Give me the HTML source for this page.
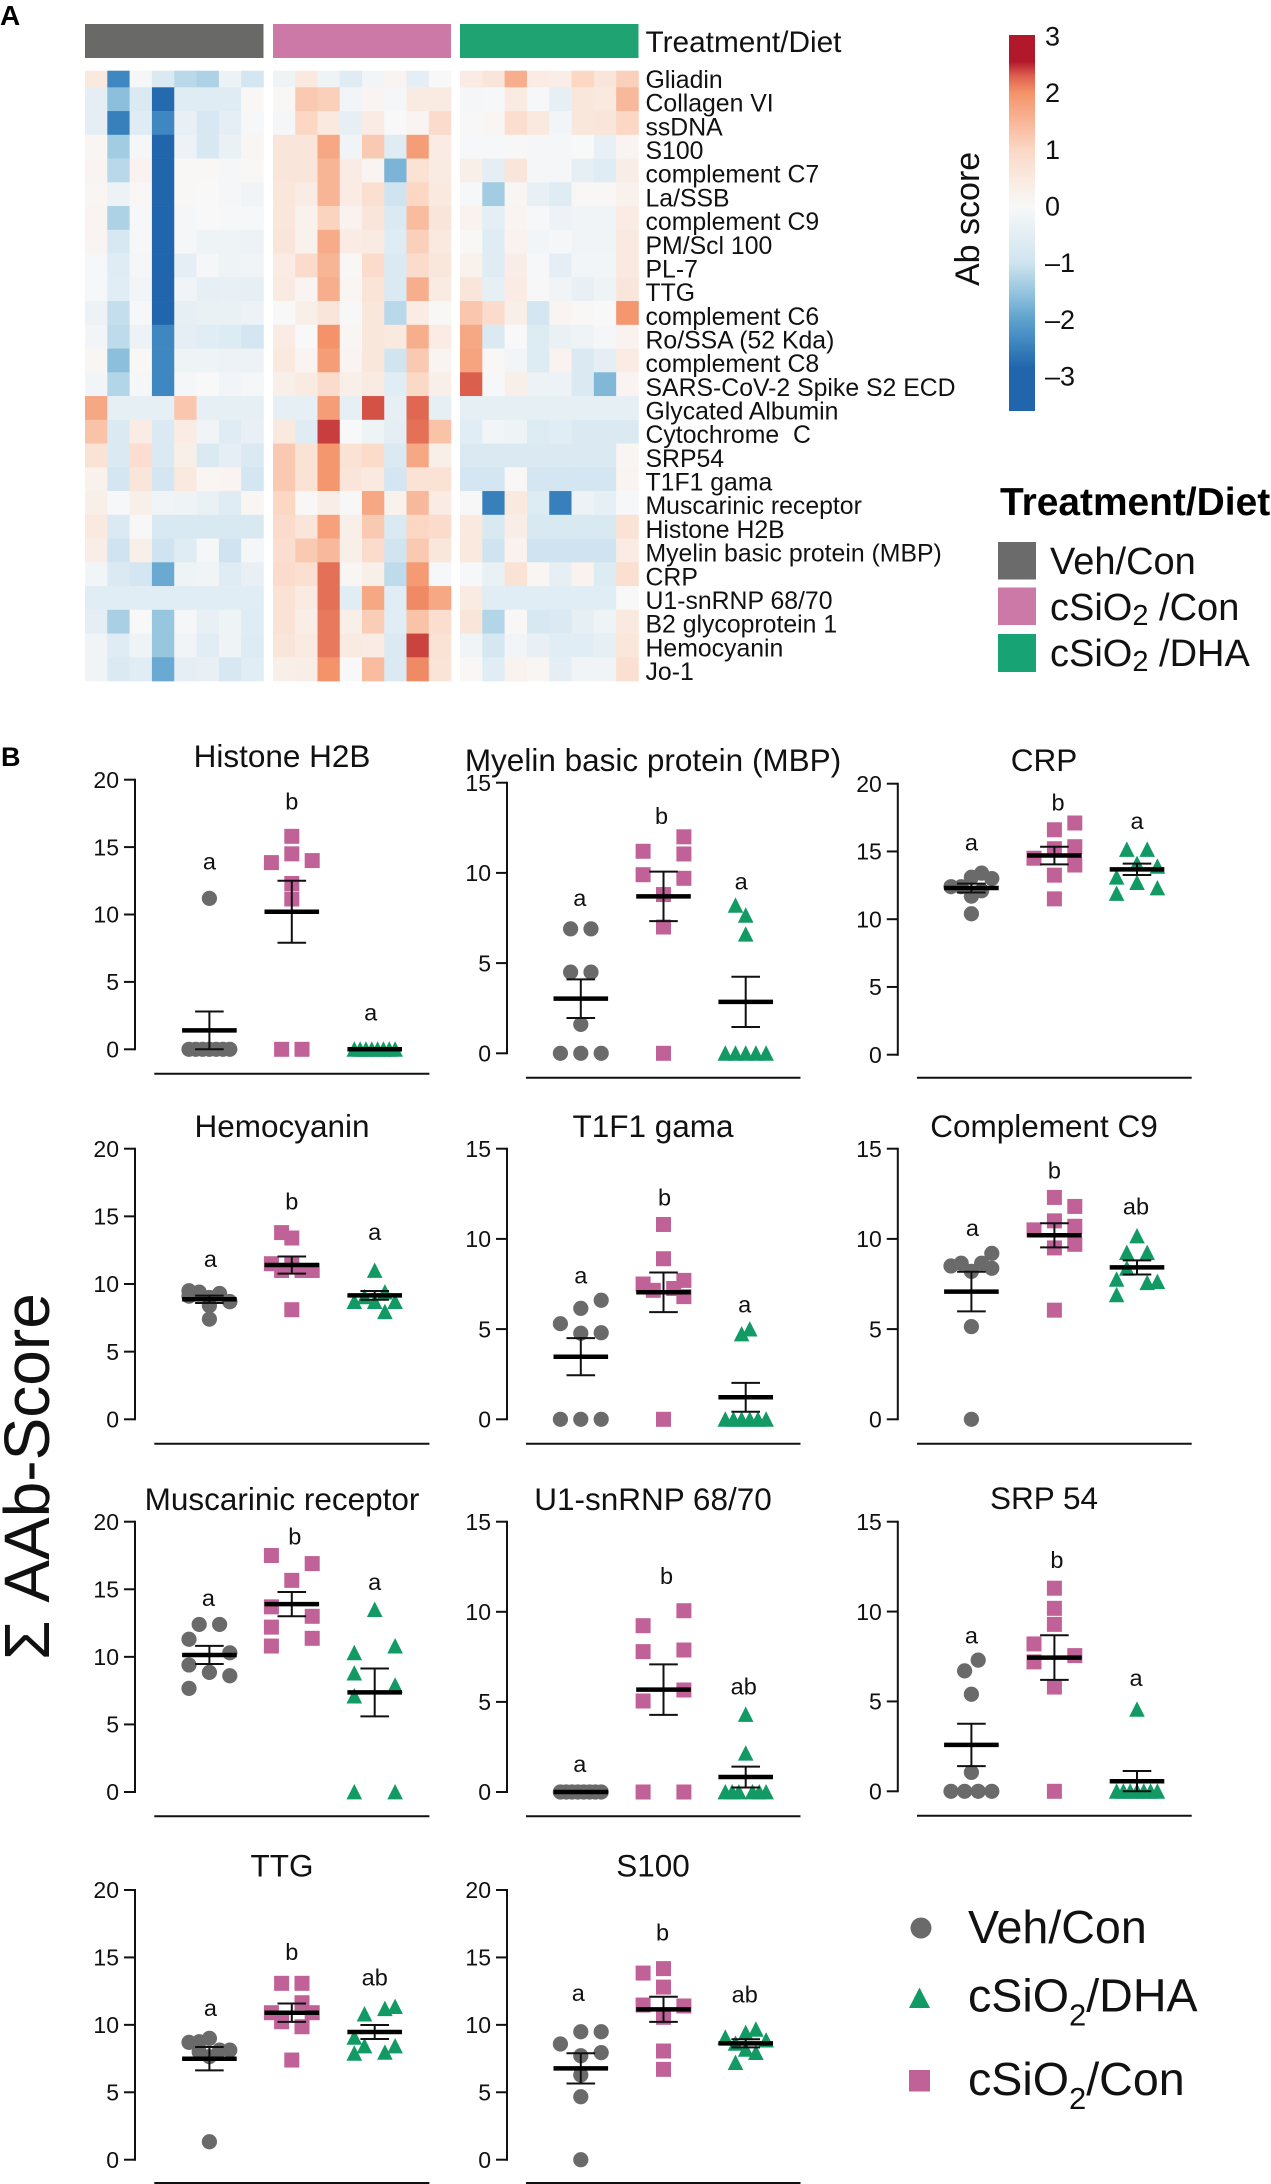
<!DOCTYPE html>
<html lang="en">
<head>
<meta charset="utf-8">
<title>Autoantibody heatmap and scatter panels</title>
<style>
html,body{margin:0;padding:0;background:#fff;width:1271px;height:2184px;overflow:hidden}
svg{display:block;font-family:"Liberation Sans",Arial,sans-serif;fill:#111}
.pre{white-space:pre}
</style>
</head>
<body>
<svg id="figure" xmlns="http://www.w3.org/2000/svg" width="1271" height="2184" viewBox="0 0 1271 2184">
  <defs>
    <linearGradient id="abScale" x1="0" y1="0" x2="0" y2="1"></linearGradient>
  </defs>
  <rect x="0" y="0" width="1271" height="2184" fill="#fff"></rect>
  <text x="0" y="25" font-size="28" font-weight="bold" fill="#000">A</text>
  <text x="1" y="766" font-size="27" font-weight="bold" fill="#000">B</text>

  <rect x="85" y="24" width="178.5" height="34" fill="#696968"></rect>
  <rect x="273" y="24" width="178" height="34" fill="#cd79a8"></rect>
  <rect x="460" y="24" width="178.5" height="34" fill="#1fa373"></rect>
  <text x="645.5" y="52" font-size="29.8">Treatment/Diet</text>

  <g id="heatmap"></g>
  <g id="rowLabelsGroup"></g>

  <rect x="1009" y="35" width="26" height="376" fill="url(#abScale)"></rect>
  <g id="colorbarTicks"></g>
  <text transform="translate(979,286) rotate(-90)" font-size="34">Ab score</text>

  <text x="1000" y="515" font-size="38.9" font-weight="bold" fill="#000">Treatment/Diet</text>
  <rect x="998" y="542" width="38" height="37.5" fill="#6b6b6b"></rect>
  <rect x="998" y="587.5" width="38" height="37.5" fill="#cc79a7"></rect>
  <rect x="998" y="634" width="38" height="38" fill="#18a374"></rect>
  <text x="1050" y="574" font-size="38">Veh/Con</text>
  <text x="1050" y="620" font-size="38">cSiO<tspan font-size="29" dy="5">2</tspan><tspan dy="-5"> /Con</tspan></text>
  <text x="1050" y="666" font-size="38">cSiO<tspan font-size="29" dy="5">2</tspan><tspan dy="-5"> /DHA</tspan></text>

  <text transform="translate(49,1660) rotate(-90)" font-size="64">&#931; AAb-Score</text>

  <g id="panels"></g>

  <circle cx="921" cy="1928" r="10.5" fill="#6a6a6a"></circle>
  <polygon points="919.5,1987.5 930,2008 909,2008" fill="#129a65"></polygon>
  <rect x="909" y="2070" width="21" height="21.5" fill="#c06297"></rect>
  <text x="968" y="1943" font-size="46.6">Veh/Con</text>
  <text x="968" y="2011.5" font-size="46.6">cSiO<tspan font-size="31" dy="14">2</tspan><tspan dy="-14">/DHA</tspan></text>
  <text x="968" y="2095" font-size="46.6">cSiO<tspan font-size="31" dy="14">2</tspan><tspan dy="-14">/Con</tspan></text>
</svg>

<script>
// ---------- Heatmap data ----------
const rowLabels = ["Gliadin","Collagen VI","ssDNA","S100","complement C7","La/SSB","complement C9","PM/Scl 100","PL-7","TTG","complement C6","Ro/SSA (52 Kda)","complement C8","SARS-CoV-2 Spike S2 ECD","Glycated Albumin","Cytochrome  C","SRP54","T1F1 gama","Muscarinic receptor","Histone H2B","Myelin basic protein (MBP)","CRP","U1-snRNP 68/70","B2 glycoprotein 1","Hemocyanin","Jo-1"];
const vehConScores = [
[0.5,-2.4,-0.1,-0.7,-1.2,-1.3,-0.3,-0.9],
[-0.5,-1.6,-0.7,-2.8,-0.6,-0.6,-0.6,0.05],
[-0.5,-2.5,-0.6,-2.4,-0.4,-0.8,-0.5,-0.05],
[0.1,-1.4,-0.1,-3,-0.3,-0.8,-0.35,0.1],
[0.15,-1.2,0.2,-3,0.05,0.05,-0.1,0.05],
[0.1,-0.3,0.05,-3,0.05,0,-0.1,-0.2],
[0.15,-1.3,-0.05,-3,-0.1,0,-0.05,-0.05],
[0.15,-0.8,-0.05,-3,-0.1,-0.25,-0.25,-0.3],
[-0.05,-0.6,-0.1,-3,-0.5,-0.1,-0.25,-0.2],
[-0.05,-0.55,-0.15,-3,-0.2,-0.45,-0.4,-0.45],
[-0.3,-1.1,-0.05,-2.9,-0.45,-0.35,-0.35,-0.3],
[-0.15,-1.15,-0.3,-2.4,-0.5,-0.55,-0.65,-0.9],
[0.1,-1.6,0.05,-2.4,-0.25,-0.25,-0.3,-0.3],
[-0.15,-1.25,-0.1,-2.4,-0.1,0,-0.15,-0.1],
[1.7,-0.45,-0.45,-0.45,1.25,-0.45,-0.45,-0.45],
[1.3,-0.7,0.4,-0.7,0.4,-0.2,-0.6,-0.4],
[0.7,-0.7,0.8,-0.7,0.3,-0.7,-0.5,-0.7],
[0.25,-0.9,0.6,-0.9,0.5,0.1,0.15,-0.9],
[0.3,-0.05,0.3,-0.2,-0.25,-0.35,-0.6,0.1],
[0.5,-0.7,0.03,-0.75,-0.75,-0.75,-0.75,-0.75],
[0.35,-1,0.3,-1,-0.6,-0.1,-1,-0.1],
[-0.15,-0.7,-0.9,-1.9,-0.25,-0.2,-0.6,-0.4],
[-0.55,-0.55,-0.55,-0.55,-0.55,-0.55,-0.55,-0.55],
[-0.5,-1.35,0,-1.5,-0.1,-0.4,-0.25,-0.6],
[-0.2,-0.6,-0.25,-1.5,-0.2,-0.55,-0.25,-0.65],
[-0.2,-0.7,-0.55,-1.9,-0.5,-0.4,-0.8,-0.55]
];
const silicaConScores = [
[-0.25,0.5,-0.25,-0.6,-0.15,0.15,-0.5,0],
[0.05,1.2,1.1,-0.15,0.15,-0.1,0.45,0.45],
[-0.1,1,0.5,-0.45,0.4,0,0.15,0.85],
[0.6,0.6,1.7,-0.2,1.2,-0.6,1.85,0.4],
[0.6,0.6,1.5,0.4,0.15,-1.75,0.7,0.45],
[0.55,0.4,1.5,0.4,0.75,-1,1,0.5],
[0.55,0.25,1.05,0.2,0.6,-0.7,1.4,0.6],
[0.6,0.25,1.65,0.4,0.45,-0.6,1.1,0.5],
[0.4,0.85,1.5,0.05,0.85,-0.7,0.85,0.55],
[0.45,0.15,1.6,0.1,0.65,-0.7,1.6,0.45],
[0,0.3,0.6,0.03,0.55,-1.2,0.4,0.05],
[0.4,0,2.0,0.1,0.55,0.5,1.6,0.4],
[0.5,0.15,1.85,0.15,0.55,-0.95,1.2,0.15],
[0.3,0.45,0.85,0.3,0.45,-0.55,0.95,0.3],
[-0.45,-0.45,1.85,-0.45,2.35,-0.45,2.25,-0.45],
[0.5,-0.6,2.42,0,-0.25,-0.5,2.2,1.3],
[1.2,0.7,1.95,0.7,0.9,-0.7,1.7,0.3],
[1.2,0.7,1.95,0.6,0.5,-0.9,0.7,0.7],
[1,0.05,0.35,0.03,1.7,0.25,1.45,0.4],
[0.85,0.6,1.8,0.3,1.2,-0.7,1,0.85],
[0.8,1.2,1.45,0.3,0.85,-0.95,1.2,0.55],
[0.85,0.75,2.2,0.1,0.3,-1.15,1.9,-0.05],
[0.7,0.45,2.2,-0.55,1.7,-0.55,2.05,1.7],
[0.7,0.35,2.15,0.3,1.15,-0.55,1.3,0.8],
[0.6,0.45,2.15,0.45,0.4,-0.7,2.4,0.7],
[0.3,0.35,2.0,0,1.4,-0.7,2.05,0.65]
];
const silicaDhaScores = [
[0.4,0.6,1.6,0.4,0.35,1.0,0.6,1.1],
[-0.1,-0.05,0.45,-0.05,-0.45,0.55,0.5,1.45],
[-0.03,0.1,0.8,0.5,-0.15,0.55,0.6,1.0],
[-0.05,-0.05,-0.03,-0.1,-0.1,-0.02,-0.4,0.15],
[0.3,-0.5,0.6,-0.1,-0.1,-0.45,-0.6,0.35],
[-0.05,-1.4,0.1,-0.4,-0.6,0.05,0.05,0.25],
[0.2,-0.5,0.15,-0.05,-0.3,-0.2,-0.2,0.4],
[0.05,-0.6,0.2,-0.15,-0.1,-0.2,-0.2,0.5],
[0.25,-0.6,0.35,-0.05,-0.5,-0.15,-0.15,0.5],
[0.6,-0.45,0.4,-0.03,-0.2,-0.4,-0.25,0.6],
[1.25,0.85,0.3,-0.9,0.15,0.05,0,1.95],
[1.7,-0.7,0,-0.65,-0.35,-0.25,-0.1,0.2],
[1.75,0.05,-0.15,-0.65,0.2,-0.7,-0.5,0.4],
[2.3,-0.05,0.3,-0.3,-0.3,-0.7,-1.7,0.15],
[-0.45,-0.45,-0.45,-0.45,-0.45,-0.45,-0.45,-0.45],
[-0.55,-0.15,-0.25,-0.65,-0.55,-0.7,-0.7,-0.7],
[-0.7,-0.7,-0.7,-0.7,-0.7,-0.7,-0.7,0.1],
[-0.9,-0.9,0.05,-0.9,-0.9,-0.9,-0.9,0.15],
[0.03,-2.5,0.5,-0.65,-2.5,-0.3,-0.45,-0.05],
[0.5,-0.75,0.35,-0.75,-0.75,-0.75,-0.75,0.7],
[0.5,-1,0.2,-1,-1,-1,-1,0.4],
[-0.05,-0.35,0.7,0.1,-0.45,0.2,-0.65,0.75],
[0.45,-0.55,-0.55,-0.55,-0.55,-0.55,-0.55,0],
[0.6,-1.25,0.05,-0.8,-0.7,-0.45,-0.25,0.5],
[-0.2,-0.85,-0.15,-0.4,-0.55,-0.55,-0.45,0.55],
[0.05,-0.55,0.2,0.1,-0.5,-0.2,-0.2,0.75]
];
const colorbarTickValues = [3,2,1,0,-1,-2,-3];

// ---------- Scatter data: each series is a list of swarm lanes, each lane a list of values ----------
const histoneVeh = [[0],[0],[0],[0,11.2],[0],[0],[0]];
const histoneCon = [[13.85],[0],[15.8,14.5,12.3,11.15],[0],[14]];
const histoneDha = [[0],[0],[0],[0],[0],[0],[0],[0]];
const histoneMeans = [1.4,10.2,0];
const histoneSem = [1.4,2.3,0];
const histoneLetters = ["a","b","a"];
const histoneLetterLevels = [13.8,18.4,2.6];

const mbpVeh = [[0],[6.9,4.5],[0,1.6],[6.9,4.5],[0]];
const mbpCon = [[11.2,9.9],[],[8.8,7.0,0],[],[12,11.05,9.7]];
const mbpDha = [[0],[0,8.2],[0,7.65,6.6],[0],[0]];
const mbpMeans = [3.03,8.7,2.85];
const mbpSem = [1.07,1.37,1.39];
const mbpLetters = ["a","b","a"];
const mbpLetterLevels = [8.5,13.15,9.4];

const crpVeh = [[12.4],[12.4],[10.4,11.7,13.1],[13.4,12.1],[13.0]];
const crpCon = [[14.5],[],[16.6,15.2,13.25,11.5],[],[17.1,15.35,14]];
const crpDha = [[13.1,11.9],[15.15],[14.1,12.7],[15.15],[13.9,12.3]];
const crpMeans = [12.3,14.7,13.68];
const crpSem = [0.33,0.65,0.42];
const crpLetters = ["a","b","a"];
const crpLetterLevels = [15.5,18.6,17.1];

const hemocyaninVeh = [[9.5,9.1],[9.4],[8.4,7.4,9.0],[9.3],[8.7,8.7]];
const hemocyaninCon = [[11.5],[13.8,11],[13.4,11.4,8.1],[11],[11]];
const hemocyaninDha = [[8.7],[9.05],[11,8.7],[9.4,7.95],[8.7]];
const hemocyaninMeans = [8.87,11.4,9.16];
const hemocyaninSem = [0.27,0.63,0.32];
const hemocyaninLetters = ["a","b","a"];
const hemocyaninLetterLevels = [11.7,16.1,13.7];

const t1f1Veh = [[5.3,0],[],[6.15,4.77,0],[],[6.6,4.8,0]];
const t1f1Con = [[7.5],[7.15],[10.8,8.9,0],[7.25],[7.7,6.8]];
const t1f1Dha = [[0],[0],[0,4.73],[0,5],[0],[0]];
const t1f1Means = [3.47,7.04,1.22];
const t1f1Sem = [1.03,1.1,0.8];
const t1f1Letters = ["a","b","a"];
const t1f1LetterLevels = [7.87,12.3,6.25];

const c9Veh = [[8.5],[8.65],[8.2,5.14,0],[8.65],[9.2,8.37]];
const c9Con = [[10.5],[],[12.3,11,9.5,6.05],[],[11.8,10.7,9.7]];
const c9Dha = [[7.76,6.9],[9.24,8.37],[10.16],[9.24,7.57],[7.63]];
const c9Means = [7.08,10.2,8.42];
const c9Sem = [1.1,0.67,0.39];
const c9Letters = ["a","b","ab"];
const c9LetterLevels = [10.5,13.8,11.8];

const muscarinicVeh = [[7.67,9.4,11.3],[12.4],[8.85],[12.4],[8.6,10.3]];
const muscarinicCon = [[17.5,13.7,12.2,10.8],[],[15.66],[],[16.9,13,11.37]];
const muscarinicDha = [[10.3,8.8,7.1,0],[],[13.5],[],[10.8,7.9,0]];
const muscarinicMeans = [10.14,13.9,7.37];
const muscarinicSem = [0.67,0.9,1.77];
const muscarinicLetters = ["a","b","a"];
const muscarinicLetterLevels = [14.2,18.9,15.4];

const u1Veh = [[0],[0],[0],[0],[0],[0],[0],[0]];
const u1Con = [[9.23,7.79,5.05,0],[],[],[],[10.06,7.88,5.66,0]];
const u1Dha = [[0],[0],[0],[4.3,2.15],[0],[0],[0]];
const u1Means = [0,5.68,0.83];
const u1Sem = [0,1.4,0.58];
const u1Letters = ["a","b","ab"];
const u1LetterLevels = [1.44,12,5.85];

const srpVeh = [[0],[],[0,6.7],[5.4,1.05],[0,7.3],[],[0]];
const srpCon = [[8.2,7.2],[],[11.3,10.18,9.29,5.8,0],[],[7.55]];
const srpDha = [[0],[0],[0],[0,4.56],[0],[0],[0]];
const srpMeans = [2.58,7.44,0.56];
const srpSem = [1.18,1.24,0.57];
const srpLetters = ["a","b","a"];
const srpLetterLevels = [8.57,12.87,6.2];

const ttgVeh = [[8.7],[8.75,8],[1.33,9,7.64],[8.13],[8.13]];
const ttgCon = [[10.9],[13.08,10.23],[7.39],[13.08,11.64,9.86],[10.9]];
const ttgDha = [[9.07,7.89],[10.8,8.43],[],[11.2,7.96],[11.35,8.43]];
const ttgMeans = [7.49,10.9,9.47];
const ttgSem = [0.87,0.68,0.52];
const ttgLetters = ["a","b","ab"];
const ttgLetterLevels = [11.1,15.4,13.5];

const s100Veh = [[8.58],[],[9.49,7.71,6.28,4.67,0],[],[9.49,7.94]];
const s100Con = [[13.84,11.47],[],[14.17,12.8,10.56,8.06,6.7],[],[11.4]];
const s100Dha = [[9.07],[8.63,7.2],[9.42,8.18],[9.67,7.94],[8.87]];
const s100Means = [6.77,11.15,8.63];
const s100Sem = [1.12,0.93,0.3];
const s100Letters = ["a","b","ab"];
const s100LetterLevels = [12.2,16.86,12.26];

const ticks20 = [0,5,10,15,20];
const ticks15 = [0,5,10,15];
const groupKeys = ["veh-con","csio2-con","csio2-dha"];

// ---------- Layout (not data) ----------
const NS = "http://www.w3.org/2000/svg";
const colAxisX = [135,507,897.8];
const colBase = [[154.3,429.4],[526,800.5],[917,1191.7]];
const colGroups = [[209.4,291.8,374.7],[580.8,663.5,745.7],[971.4,1054.4,1137]];
const colTitleX = [282,653,1044];

const panelList = [
 {key:"histone-h2b",title:"Histone H2B",col:0,top:779.7,zero:1049.3,base:1073.7,titleY:756,ticks:ticks20,series:[histoneVeh,histoneCon,histoneDha],means:histoneMeans,sem:histoneSem,letters:histoneLetters,levels:histoneLetterLevels,nudge:[0,0,-4]},
 {key:"mbp",title:"Myelin basic protein (MBP)",col:1,top:782.7,zero:1053.3,base:1077.7,titleY:760,ticks:ticks15,series:[mbpVeh,mbpCon,mbpDha],means:mbpMeans,sem:mbpSem,letters:mbpLetters,levels:mbpLetterLevels,nudge:[-1,-2,-4.5]},
 {key:"crp",title:"CRP",col:2,top:783.7,zero:1054.7,base:1077.7,titleY:760,ticks:ticks20,series:[crpVeh,crpCon,crpDha],means:crpMeans,sem:crpSem,letters:crpLetters,levels:crpLetterLevels,nudge:[0,3.7,0]},
 {key:"hemocyanin",title:"Hemocyanin",col:0,top:1148.7,zero:1419.3,base:1443.7,titleY:1126,ticks:ticks20,series:[hemocyaninVeh,hemocyaninCon,hemocyaninDha],means:hemocyaninMeans,sem:hemocyaninSem,letters:hemocyaninLetters,levels:hemocyaninLetterLevels,nudge:[1,0,0]},
 {key:"t1f1-gama",title:"T1F1 gama",col:1,top:1148.7,zero:1419.3,base:1443.7,titleY:1126,ticks:ticks15,series:[t1f1Veh,t1f1Con,t1f1Dha],means:t1f1Means,sem:t1f1Sem,letters:t1f1Letters,levels:t1f1LetterLevels,nudge:[0,1,-1]},
 {key:"complement-c9",title:"Complement C9",col:2,top:1148.7,zero:1419.3,base:1443.7,titleY:1126,ticks:ticks15,series:[c9Veh,c9Con,c9Dha],means:c9Means,sem:c9Sem,letters:c9Letters,levels:c9LetterLevels,nudge:[1,0,-1]},
 {key:"muscarinic-receptor",title:"Muscarinic receptor",col:0,top:1521.7,zero:1792,base:1816.3,titleY:1499,ticks:ticks20,series:[muscarinicVeh,muscarinicCon,muscarinicDha],means:muscarinicMeans,sem:muscarinicSem,letters:muscarinicLetters,levels:muscarinicLetterLevels,nudge:[-1,3,0]},
 {key:"u1-snrnp",title:"U1-snRNP 68/70",col:1,top:1521.7,zero:1792,base:1816.3,titleY:1499,ticks:ticks15,series:[u1Veh,u1Con,u1Dha],means:u1Means,sem:u1Sem,letters:u1Letters,levels:u1LetterLevels,nudge:[-1,3,-2]},
 {key:"srp-54",title:"SRP 54",col:2,top:1521.7,zero:1791.3,base:1815.7,titleY:1498,ticks:ticks15,series:[srpVeh,srpCon,srpDha],means:srpMeans,sem:srpSem,letters:srpLetters,levels:srpLetterLevels,nudge:[0,2.5,-1]},
 {key:"ttg",title:"TTG",col:0,top:1890,zero:2159.7,base:2183,titleY:1865.7,ticks:ticks20,series:[ttgVeh,ttgCon,ttgDha],means:ttgMeans,sem:ttgSem,letters:ttgLetters,levels:ttgLetterLevels,nudge:[1,0,0]},
 {key:"s100",title:"S100",col:1,top:1890,zero:2159.7,base:2183,titleY:1865.7,ticks:ticks20,series:[s100Veh,s100Con,s100Dha],means:s100Means,sem:s100Sem,letters:s100Letters,levels:s100LetterLevels,nudge:[-2.5,-1,-1]}
];

function mk(tag, attrs, parent){
  const e = document.createElementNS(NS, tag);
  for (const k in attrs) e.setAttribute(k, attrs[k]);
  parent.appendChild(e);
  return e;
}

// ---------- Colour scale ----------
const scaleStops = [[-2.85,"#2166ac"],[-2.4,"#3f87c0"],[-2,"#5fa2cd"],[-1.5,"#97c6df"],[-1,"#cfe4f0"],[0,"#f8f8f8"],[0.5,"#fae9df"],[1,"#fbd7c4"],[1.5,"#f8b596"],[2,"#f4936a"],[2.3,"#dc5f4d"],[2.55,"#b2182b"]];
function hexToRgb(h){return [1,3,5].map(i=>parseInt(h.substr(i,2),16));}
function colorFor(v){
  if (v<=scaleStops[0][0]) return scaleStops[0][1];
  for (let i=1;i<scaleStops.length;i++){
    if (v<=scaleStops[i][0]){
      const a=scaleStops[i-1], b=scaleStops[i];
      const t=(v-a[0])/(b[0]-a[0]);
      const ca=hexToRgb(a[1]), cb=hexToRgb(b[1]);
      return "rgb("+ca.map((c,j)=>Math.round(c+(cb[j]-c)*t)).join(",")+")";
    }
  }
  return scaleStops[scaleStops.length-1][1];
}

// ---------- Heatmap ----------
const heatGroup = document.getElementById("heatmap");
const labelGroup = document.getElementById("rowLabelsGroup");
const blockStart = [85,273,460];
const cellW = [22.31,22.25,22.31];
const rowH = 23.75;
const clipTop = 70.7;
const rowOrigin = 87.3 - rowH;
function rowY(i){return rowOrigin + i*rowH;}
[vehConScores,silicaConScores,silicaDhaScores].forEach(function(block,b){
  block.forEach(function(row,r){
    row.forEach(function(v,c){
      const y0 = Math.max(rowY(r), clipTop);
      const y1 = rowY(r+1);
      const cell = mk("rect",{x:blockStart[b]+c*cellW[b],y:y0,width:cellW[b]+0.3,height:y1-y0+0.3,fill:colorFor(v)},heatGroup);
      
      
    });
  });
});
rowLabels.forEach(function(label,r){
  const t = mk("text",{x:645.5,y:79.4 + r*23.68 + 8.6,"font-size":24.8,"class":"pre"},labelGroup);
  t.textContent = label;
  
  
});

// ---------- Colour bar ----------
const barTop = 35, barBottom = 411, barZero = 206, barUnit = 56.67;
const gradient = document.getElementById("abScale");
scaleStops.slice().reverse().forEach(function(s){
  const y = barZero - s[0]*barUnit;
  mk("stop",{offset:((y-barTop)/(barBottom-barTop)).toFixed(4),"stop-color":s[1]},gradient);
});
const barTicks = document.getElementById("colorbarTicks");
colorbarTickValues.forEach(function(v){
  const t = mk("text",{x:1045,y:barZero - v*barUnit + 9.5,"font-size":27},barTicks);
  t.textContent = v<0 ? "\u2013"+Math.abs(v) : String(v);
  
  
});

// ---------- Scatter panels ----------
const panelsRoot = document.getElementById("panels");
const groupColors = ["#6a6a6a","#c06297","#129a65"];
const swarmHalf = 20.4;
const markerR = 7.6;

function drawMarker(parent, kind, x, y){
  let m;
  if (kind===0){
    m = mk("circle",{cx:x,cy:y,r:markerR,fill:groupColors[0]},parent);
  } else if (kind===1){
    m = mk("rect",{x:x-7.5,y:y-7.5,width:15,height:15,fill:groupColors[1]},parent);
  } else {
    m = mk("polygon",{points:(x)+","+(y-8)+" "+(x+7.8)+","+(y+7.4)+" "+(x-7.8)+","+(y+7.4),fill:groupColors[2]},parent);
  }
  return m;
}

panelList.forEach(function(p){
  const g = mk("g",{},panelsRoot);
  
  
  const ax = colAxisX[p.col];
  const maxTick = p.ticks[p.ticks.length-1];
  const yOf = function(v){return p.zero - v*(p.zero-p.top)/maxTick;};
  const lineStyle = {stroke:"#111","stroke-width":2};

  const title = mk("text",{x:colTitleX[p.col],y:p.titleY+11,"font-size":31.5,"text-anchor":"middle"},g);
  title.textContent = p.title;
  
  

  const yAxis = mk("line",Object.assign({x1:ax,x2:ax,y1:yOf(maxTick)-1,y2:yOf(0)+1},lineStyle),g);
  
  

  p.ticks.forEach(function(v){
    const tick = mk("line",Object.assign({x1:ax-11,x2:ax,y1:yOf(v),y2:yOf(v)},lineStyle),g);
    
    
    const lab = mk("text",{x:ax-16,y:yOf(v)+8.2,"font-size":23,"text-anchor":"end"},g);
    lab.textContent = String(v);
    
    
  });

  const baseX = colBase[p.col];
  const xAxis = mk("line",Object.assign({x1:baseX[0],x2:baseX[1],y1:p.base,y2:p.base},lineStyle),g);
  
  

  p.series.forEach(function(lanes,s){
    const cx = colGroups[p.col][s];
    lanes.forEach(function(lane,li){
      const off = lanes.length>1 ? -swarmHalf + li*(2*swarmHalf)/(lanes.length-1) : 0;
      lane.forEach(function(v){
        const pt = drawMarker(g,s,cx+off,yOf(v));
        
        
      });
    });
  });

  p.means.forEach(function(m,s){
    const cx = colGroups[p.col][s];
    const hi = yOf(m+p.sem[s]), lo = yOf(Math.max(m-p.sem[s],0));
    const stem = mk("line",Object.assign({x1:cx,x2:cx,y1:hi,y2:lo},lineStyle),g);
    
    
    [hi,lo].forEach(function(yy){
      const cap = mk("line",Object.assign({x1:cx-14.3,x2:cx+14.3,y1:yy,y2:yy},lineStyle),g);
      
      
    });
    const bar = mk("line",{x1:cx-27.3,x2:cx+27.3,y1:yOf(m),y2:yOf(m),stroke:"#000","stroke-width":4.5},g);
    
    
  });

  p.letters.forEach(function(txt,s){
    const t = mk("text",{x:colGroups[p.col][s]+p.nudge[s],y:yOf(p.levels[s])+(txt==="a"?6:8),"font-size":23.5,"text-anchor":"middle"},g);
    t.textContent = txt;
    
    
  });
});
</script>
</body>
</html>
